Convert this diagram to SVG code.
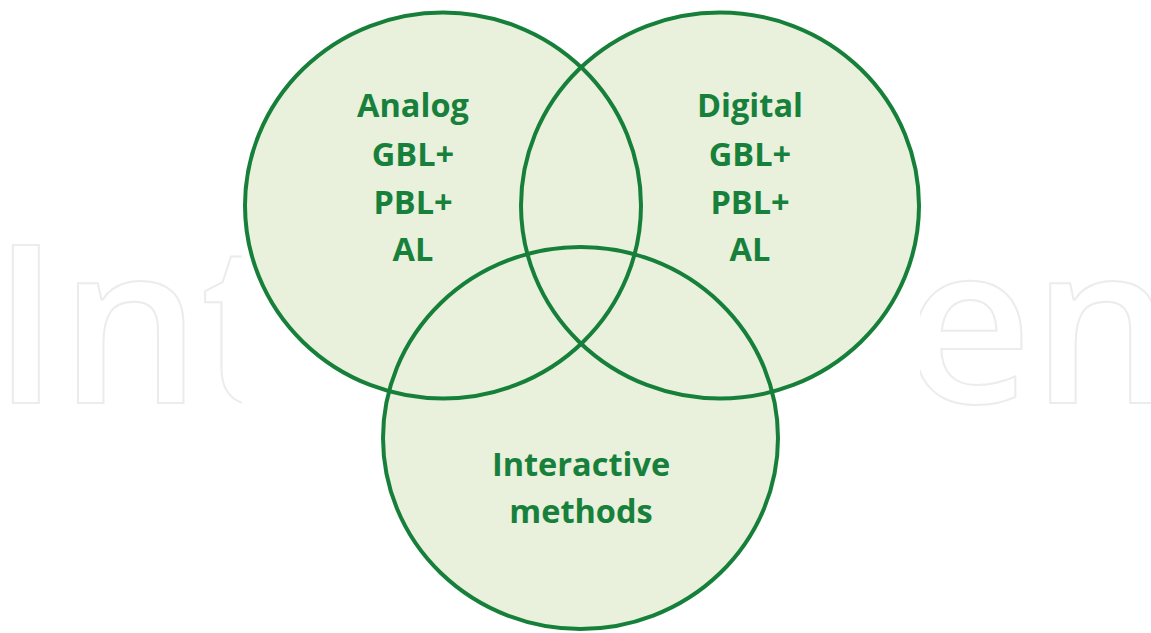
<svg xmlns="http://www.w3.org/2000/svg" width="1151" height="633" viewBox="0 0 1151 633">
<style>
.wm{font-family:"Open Sans",sans-serif;font-size:222px;font-weight:600;fill:#fff;stroke:#ececec;stroke-width:2;}
.fill{fill:#e9f0dc;stroke:none;}
.ring{fill:none;stroke:#16803a;stroke-width:4;}
.lbl{font-family:"Open Sans","Liberation Sans",sans-serif;font-weight:bold;font-size:32.5px;fill:#17803b;text-anchor:middle;}
</style>
<rect width="1151" height="633" fill="#fff"/>
<g id="watermark">
<text class="wm" x="-8" y="403">Int</text>
<text class="wm" x="904" y="403">en</text>
<rect x="242" y="220" width="678" height="210" fill="#fff"/>
</g>
<g id="fills">
<ellipse class="fill" cx="443" cy="205.5" rx="198" ry="193"/>
<ellipse class="fill" cx="720" cy="205.5" rx="199" ry="193"/>
<ellipse class="fill" cx="580.5" cy="438" rx="197.5" ry="191"/>
</g>
<g id="analog">
<ellipse class="ring" cx="443" cy="205.5" rx="198" ry="193"/>
<text class="lbl" x="413" y="117">Analog</text>
<text class="lbl" x="413" y="166">GBL+</text>
<text class="lbl" x="413" y="214">PBL+</text>
<text class="lbl" x="413" y="261">AL</text>
</g>
<g id="digital">
<ellipse class="ring" cx="720" cy="205.5" rx="199" ry="193"/>
<text class="lbl" x="750" y="117">Digital</text>
<text class="lbl" x="750" y="166">GBL+</text>
<text class="lbl" x="750" y="214">PBL+</text>
<text class="lbl" x="750" y="261">AL</text>
</g>
<g id="interactive">
<ellipse class="ring" cx="580.5" cy="438" rx="197.5" ry="191"/>
<text class="lbl" x="581" y="476">Interactive</text>
<text class="lbl" x="581" y="523">methods</text>
</g>
<g id="connectors"/>
</svg>
